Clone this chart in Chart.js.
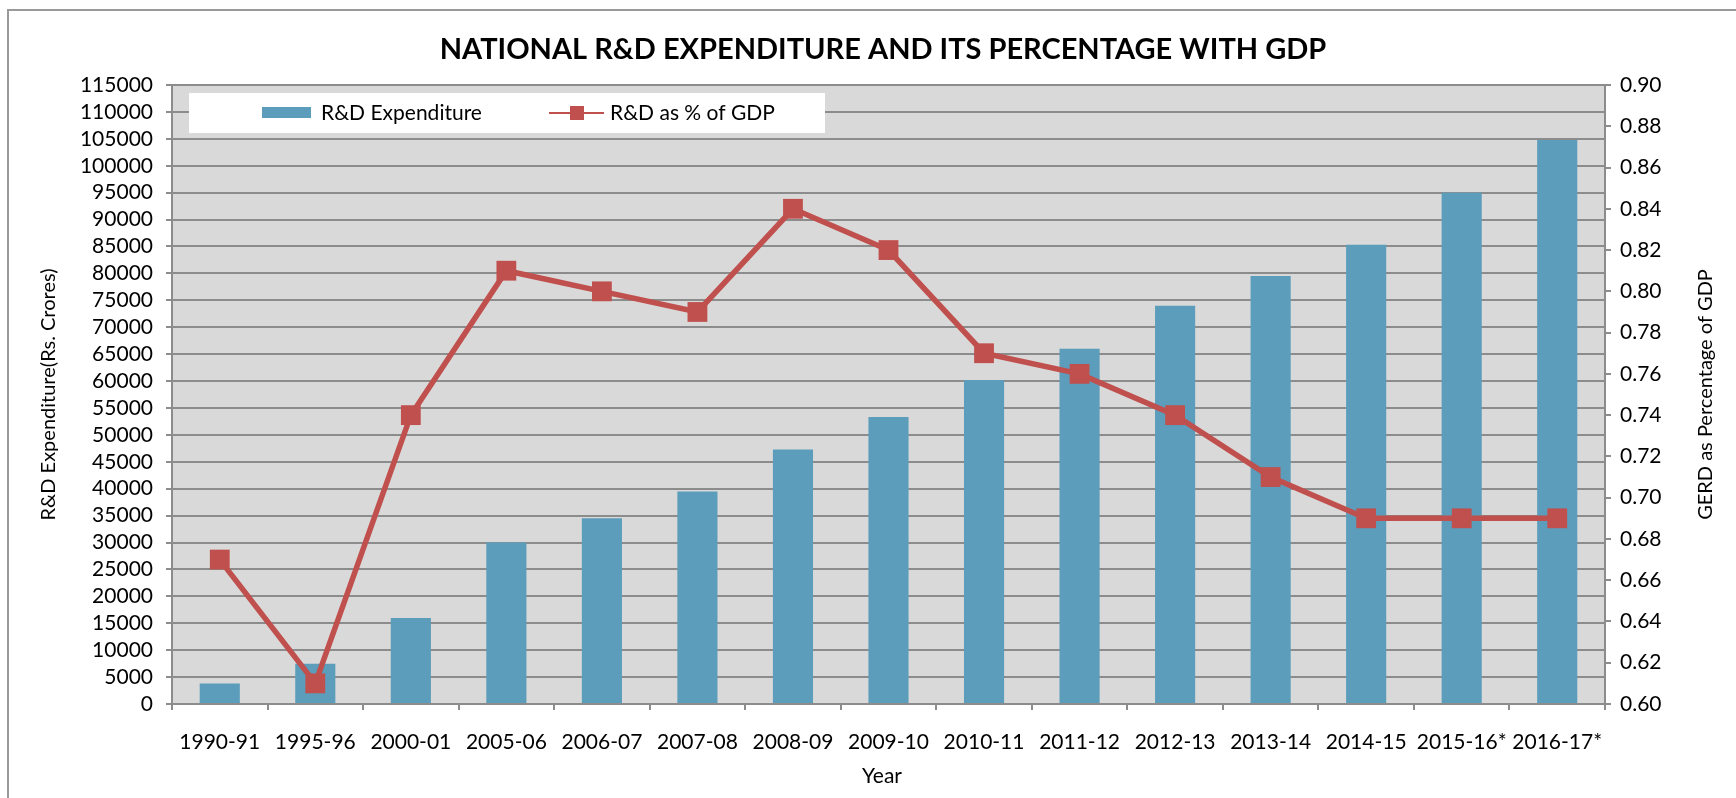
<!DOCTYPE html>
<html>
<head>
<meta charset="utf-8">
<title>National R&D Expenditure</title>
<script src="https://cdn.jsdelivr.net/npm/chart.js@4.4.1/dist/chart.umd.min.js"></script>
<style>
  body { margin: 0; background: #fff; }
  canvas { display: block; }
</style>
</head>
<body>
<canvas id="rdChart" width="1736" height="798"></canvas>
<script>
const years = ["1990-91", "1995-96", "2000-01", "2005-06", "2006-07", "2007-08", "2008-09",
  "2009-10", "2010-11", "2011-12", "2012-13", "2013-14", "2014-15", "2015-16*", "2016-17*"];
const expenditure = [3800, 7500, 16000, 30000, 34500, 39500, 47300, 53300, 60200, 66000,
  74000, 79500, 85300, 95000, 104800];
const gdpShare = [0.67, 0.61, 0.74, 0.81, 0.80, 0.79, 0.84, 0.82, 0.77, 0.76, 0.74, 0.71,
  0.69, 0.69, 0.69];

const barColor = "#5B9DBB";
const lineColor = "#C0504D";
const gridColor = "#8C8C8C";
const fontFamily = "Lato, 'Open Sans', sans-serif";

// plot background, outer frame, title, legend, x and right axis titles
const decorations = {
  id: "decorations",
  beforeDraw(chart) {
    const { ctx, chartArea: a } = chart;
    ctx.save();
    ctx.fillStyle = "#D9D9D9";
    ctx.fillRect(a.left, a.top, a.right - a.left, a.bottom - a.top);
    ctx.strokeStyle = "#9A9A9A";
    ctx.lineWidth = 2;
    ctx.beginPath();
    ctx.moveTo(8, 798);
    ctx.lineTo(8, 10);
    ctx.lineTo(1736, 10);
    ctx.stroke();

    ctx.fillStyle = "#000";
    ctx.font = "bold 29px " + fontFamily;
    ctx.textAlign = "center";
    ctx.textBaseline = "middle";
    ctx.fillText("NATIONAL R&D EXPENDITURE AND ITS PERCENTAGE WITH GDP", 883, 50);

    ctx.font = "21px " + fontFamily;
    ctx.fillText("Year", 882, 776);

    ctx.font = "20px " + fontFamily;
    ctx.translate(1706, (a.top + a.bottom) / 2);
    ctx.rotate(-Math.PI / 2);
    ctx.fillText("GERD as Percentage of GDP", 0, 0);
    ctx.restore();
  },
  afterDatasetsDraw(chart) {
    const { ctx } = chart;
    ctx.save();
    ctx.fillStyle = "#fff";
    ctx.fillRect(189, 93, 636, 40);
    ctx.fillStyle = barColor;
    ctx.fillRect(262, 107, 49, 11);
    ctx.strokeStyle = lineColor;
    ctx.lineWidth = 2;
    ctx.beginPath();
    ctx.moveTo(549, 113);
    ctx.lineTo(604, 113);
    ctx.stroke();
    ctx.fillStyle = lineColor;
    ctx.fillRect(570, 106, 14, 14);
    ctx.fillStyle = "#000";
    ctx.font = "21px " + fontFamily;
    ctx.textAlign = "left";
    ctx.textBaseline = "middle";
    ctx.fillText(chart.data.datasets[0].label, 321, 113);
    ctx.fillText(chart.data.datasets[1].label, 610, 113);
    ctx.restore();
  }
};

new Chart(document.getElementById("rdChart"), {
  data: {
    labels: years,
    datasets: [
      {
        type: "bar",
        label: "R&D Expenditure",
        data: expenditure,
        backgroundColor: barColor,
        yAxisID: "y",
        categoryPercentage: 1,
        barPercentage: 0.42,
        order: 2
      },
      {
        type: "line",
        label: "R&D as % of GDP",
        data: gdpShare,
        borderColor: lineColor,
        backgroundColor: lineColor,
        borderWidth: 5.5,
        pointStyle: "rect",
        pointRadius: 14,
        pointBorderWidth: 0,
        yAxisID: "y1",
        tension: 0,
        order: 1
      }
    ]
  },
  options: {
    responsive: false,
    animation: false,
    layout: { padding: { top: 85 } },
    plugins: {
      legend: { display: false },
      tooltip: { enabled: false },
      title: { display: false }
    },
    scales: {
      x: {
        offset: true,
        grid: { offset: true, drawOnChartArea: false, color: gridColor, lineWidth: 2, tickLength: 6 },
        border: { color: gridColor, width: 2 },
        ticks: { color: "#000", font: { family: fontFamily, size: 21 }, padding: 20, maxRotation: 0, autoSkip: false },
        afterFit(scale) { scale.height = 94; }
      },
      y: {
        position: "left",
        min: 0,
        max: 115000,
        ticks: {
          stepSize: 5000,
          autoSkip: false,
          color: "#000",
          font: { family: fontFamily, size: 21, lineHeight: 1 },
          padding: 13,
          callback: v => String(v)
        },
        grid: { color: gridColor, lineWidth: 2, tickLength: 6 },
        border: { color: gridColor, width: 2 },
        title: {
          display: true,
          text: "R&D Expenditure(Rs. Crores)",
          color: "#000",
          font: { family: fontFamily, size: 20 },
          padding: { top: 37, bottom: 0 }
        },
        afterFit(scale) { scale.width = 172; }
      },
      y1: {
        position: "right",
        min: 0.6,
        max: 0.9,
        ticks: {
          stepSize: 0.02,
          autoSkip: false,
          color: "#000",
          font: { family: fontFamily, size: 21 },
          padding: 9,
          callback: v => v.toFixed(2)
        },
        grid: { drawOnChartArea: false, color: gridColor, lineWidth: 2, tickLength: 6 },
        border: { color: gridColor, width: 2 },
        afterFit(scale) { scale.width = 131; }
      }
    }
  },
  plugins: [decorations]
});
</script>
</body>
</html>
